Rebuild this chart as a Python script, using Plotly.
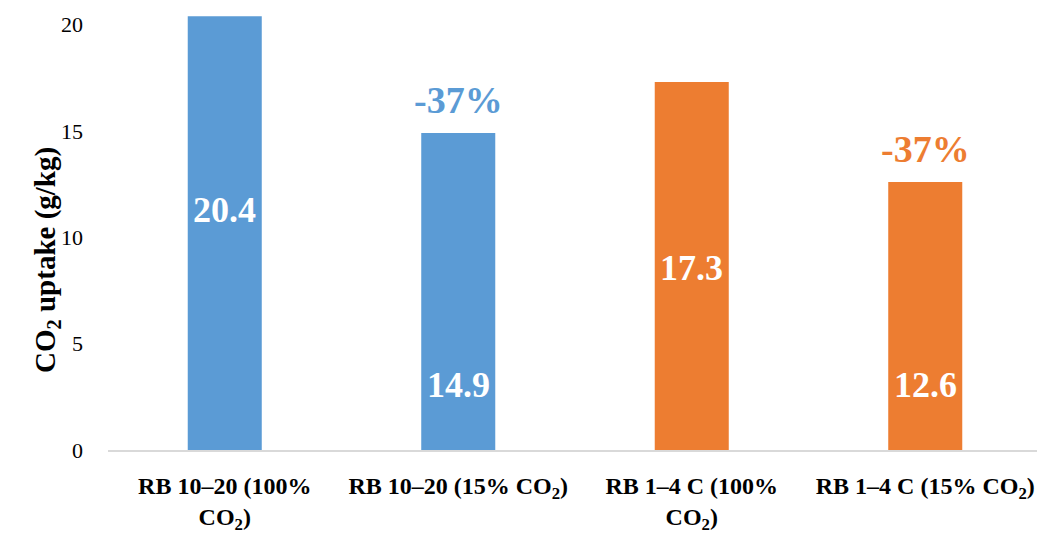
import plotly.graph_objects as go

categories = ["RB 10–20 (100%<br>CO<sub>2</sub>)", "RB 10–20 (15% CO<sub>2</sub>)",
              "RB 1–4 C (100%<br>CO<sub>2</sub>)", "RB 1–4 C (15% CO<sub>2</sub>)"]
values = [20.4, 14.9, 17.3, 12.6]
value_labels = ["20.4", "14.9", "17.3", "12.6"]
change_labels = ["", "-37%", "", "-37%"]
colors = ["#5B9BD5", "#5B9BD5", "#ED7D31", "#ED7D31"]
y_title = "<b>CO<sub>2</sub> uptake (g/kg)</b>"

FONT = "Palatino Linotype, Book Antiqua, Palatino, Liberation Serif, serif"

fig = go.Figure()
fig.add_trace(go.Bar(x=categories, y=values, marker=dict(color=colors, line=dict(width=0)),
                     showlegend=False, hoverinfo="skip"))

# inside label vertical positions (data units)
label_y = [11.3, 3.06, 8.56, 3.06]
for c, ly, t in zip(categories, label_y, value_labels):
    fig.add_annotation(x=c, y=ly, text=f"<b>{t}</b>", showarrow=False,
                       font=dict(family=FONT, size=36, color="white"))
for c, v, t, col in zip(categories, values, change_labels, colors):
    if t:
        fig.add_annotation(x=c, y=v, text=f"<b>{t}</b>", showarrow=False, yanchor="bottom",
                           yshift=10, font=dict(family=FONT, size=38, color=col))

# y axis title as rotated annotation (offset below plot centre as in original)
fig.add_annotation(xref="paper", yref="paper", x=0, y=0.436, xshift=-81, text=y_title,
                   textangle=-90, showarrow=False, font=dict(family=FONT, size=29, color="black"))

# page body has an 8px margin; compensate
fig.update_layout(
    width=1037, height=525,
    margin=dict(l=100, r=3, t=6, b=83),
    paper_bgcolor="white", plot_bgcolor="white",
    bargap=0.683,
    font=dict(family=FONT, color="black"),
)
fig.update_yaxes(range=[0, 20.5], tickvals=[0, 5, 10, 15, 20], showgrid=False, zeroline=False,
                 showline=False, ticks="", tickfont=dict(size=22), ticklabelstandoff=24,
                 automargin=False)
fig.update_xaxes(showline=True, linecolor="#D9D9D9", linewidth=2, ticks="",
                 tickfont=dict(size=24), ticklabelstandoff=13, automargin=False)
fig.update_xaxes(tickvals=categories, ticktext=[f"<b>{c}</b>" for c in categories])

fig.write_html("out.html")
